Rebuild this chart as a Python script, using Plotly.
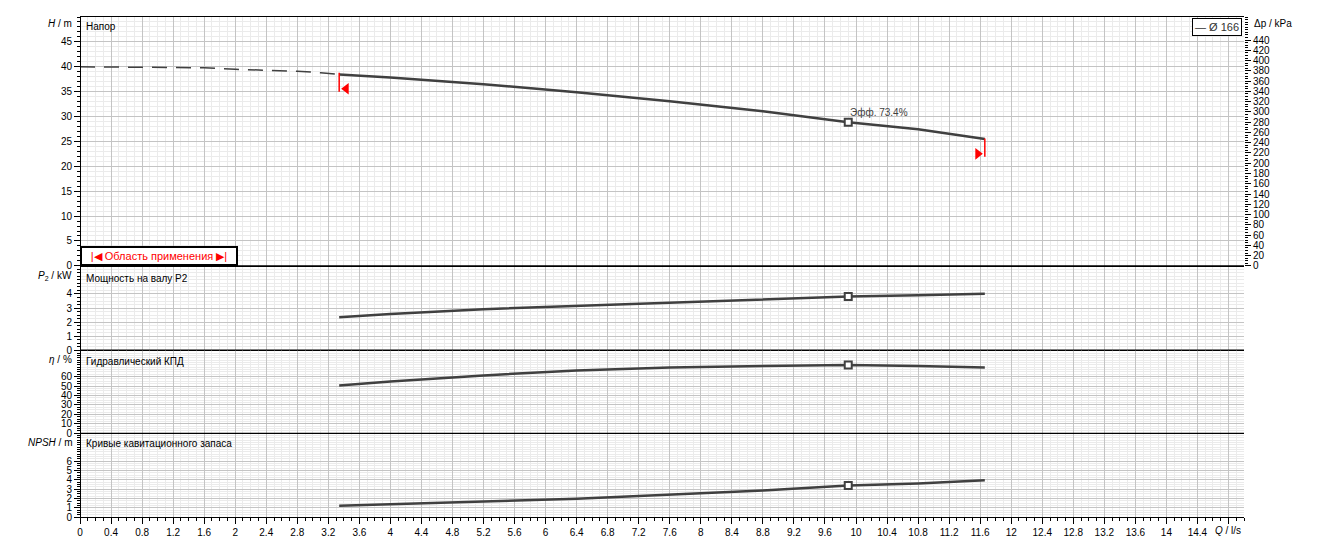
import plotly.graph_objects as go

# Pump curve readings (Q in l/s)
q_dash = [0, 1.0, 1.6, 2.0, 2.4, 2.8, 3.1, 3.34]
h_dash = [40.0, 39.95, 39.8, 39.5, 39.3, 39.1, 38.8, 38.45]

q = [3.34, 4.0, 5.2, 6.4, 7.6, 8.8, 9.9, 10.8, 11.66]
head = [38.43, 37.83, 36.5, 34.9, 33.08, 31.07, 28.85, 27.44, 25.49]
power = [2.35, 2.58, 2.92, 3.15, 3.42, 3.63, 3.82, 3.91, 4.01]
eff = [50.7, 54.9, 61.3, 66.6, 69.8, 71.2, 72.4, 71.2, 69.8]
npsh = [1.2, 1.39, 1.67, 1.96, 2.40, 2.84, 3.38, 3.6, 3.96]

# best efficiency point
q_bep = [9.9]
h_bep = [28.85]
p_bep = [3.82]
eff_bep = [72.4]
npsh_bep = [3.38]
bep_label = "Эфф. 73.4%"

# operating range markers
range_q = [3.34, 11.66]
range_top = [38.8, 25.6]
range_bottom = [35.0, 21.9]
arrow_q = [3.43, 11.57]
arrow_h = [35.6, 22.5]

q_ticks = [0, 0.4, 0.8, 1.2, 1.6, 2, 2.4, 2.8, 3.2, 3.6, 4, 4.4, 4.8, 5.2, 5.6, 6,
           6.4, 6.8, 7.2, 7.6, 8, 8.4, 8.8, 9.2, 9.6, 10, 10.4, 10.8, 11.2, 11.6,
           12, 12.4, 12.8, 13.2, 13.6, 14, 14.4, 14.8]
q_labels = ["0", "0.4", "0.8", "1.2", "1.6", "2", "2.4", "2.8", "3.2", "3.6", "4",
            "4.4", "4.8", "5.2", "5.6", "6", "6.4", "6.8", "7.2", "7.6", "8", "8.4",
            "8.8", "9.2", "9.6", "10", "10.4", "10.8", "11.2", "11.6", "12", "12.4",
            "12.8", "13.2", "13.6", "14", "14.4", ""]
h_ticks = [0, 5, 10, 15, 20, 25, 30, 35, 40, 45]
kpa_ticks = list(range(0, 441, 20))
p_ticks = [0, 1, 2, 3, 4]
eff_ticks = [0, 10, 20, 30, 40, 50, 60]
npsh_ticks = [0, 1, 2, 3, 4, 5, 6]

LINE = '#404040'
FONT = 'Liberation Sans, Arial, sans-serif'
GRID = '#c4c4c4'
MINOR = '#ebebeb'

fig = go.Figure()

# head
fig.add_trace(go.Scatter(x=q_dash, y=h_dash, mode='lines', xaxis='x4', yaxis='y',
                         line=dict(color=LINE, width=1.5, dash='15px,9px')))
fig.add_trace(go.Scatter(x=q, y=head, mode='lines', xaxis='x4', yaxis='y',
                         line=dict(color=LINE, width=2.5)))
for i in range(2):
    fig.add_trace(go.Scatter(x=[range_q[i], range_q[i]], y=[range_top[i], range_bottom[i]],
                             mode='lines', xaxis='x4', yaxis='y',
                             line=dict(color='red', width=1.5)))
fig.add_trace(go.Scatter(x=arrow_q, y=arrow_h, mode='markers', xaxis='x4', yaxis='y',
                         marker=dict(symbol=['triangle-left', 'triangle-right'],
                                     size=10, color='red')))
fig.add_trace(go.Scatter(x=q_bep, y=h_bep, mode='markers', xaxis='x4', yaxis='y',
                         marker=dict(symbol='square', size=7, color='white',
                                     line=dict(color=LINE, width=2))))
# empty trace so the kPa axis gets drawn
fig.add_trace(go.Scatter(x=[None], y=[None], mode='lines', xaxis='x4', yaxis='y2',
                         hoverinfo='skip'))

# power, efficiency, npsh
for ax_x, ax_y, vals, bep in [('x2', 'y3', power, p_bep), ('x3', 'y4', eff, eff_bep),
                              ('x', 'y5', npsh, npsh_bep)]:
    fig.add_trace(go.Scatter(x=q, y=vals, mode='lines', xaxis=ax_x, yaxis=ax_y,
                             line=dict(color=LINE, width=2.5)))
    fig.add_trace(go.Scatter(x=q_bep, y=bep, mode='markers', xaxis=ax_x, yaxis=ax_y,
                             marker=dict(symbol='square', size=7, color='white',
                                         line=dict(color=LINE, width=2))))

xgrid = dict(range=[0, 15], showgrid=True, gridcolor=GRID, gridwidth=1,
             tickmode='array', tickvals=q_ticks, zeroline=False,
             showline=True, linecolor='black', linewidth=1, mirror=False,
             minor=dict(dtick=0.1, tick0=0, showgrid=True, gridcolor=MINOR))

tickfont = dict(family=FONT, size=10, color='black')


def yaxis(domain, rng, ticks, minor):
    return dict(domain=domain, range=rng, tickmode='array', tickvals=ticks,
                showgrid=True, gridcolor=GRID, zeroline=False, showline=True,
                linecolor='black', linewidth=1, mirror=True, ticks='outside',
                ticklen=6, tickcolor='black', tickfont=tickfont, anchor='free',
                position=0,
                minor=dict(dtick=minor, tick0=0, ticks='outside', ticklen=3,
                           tickcolor='black', showgrid=True, gridcolor=MINOR))


d_npsh = [0, 0.1675]
d_eff = [0.1675, 0.3336]
d_pow = [0.3336, 0.5023]
d_head = [0.5023, 1]

fig.update_layout(
    width=1323, height=550,
    margin=dict(l=80, r=79, t=17, b=33),
    paper_bgcolor='white', plot_bgcolor='white',
    showlegend=False,
    xaxis=dict(xgrid, anchor='y5', ticks='outside', ticklen=6, tickcolor='black',
               ticktext=q_labels, tickfont=tickfont,
               minor=dict(dtick=0.1, tick0=0, showgrid=True, gridcolor=MINOR,
                          ticks='outside', ticklen=3, tickcolor='black')),
    xaxis2=dict(xgrid, anchor='y3', matches='x', showticklabels=False),
    xaxis3=dict(xgrid, anchor='y4', matches='x', showticklabels=False),
    xaxis4=dict(xgrid, anchor='y', matches='x', showticklabels=False, mirror=True),
    yaxis=yaxis(d_head, [0, 50], h_ticks, 1),
    yaxis2=dict(overlaying='y', side='right', anchor='x4', range=[0, 485],
                tickmode='array', tickvals=kpa_ticks, showgrid=False, zeroline=False,
                showline=False, ticks='outside', ticklen=6, tickcolor='black',
                tickfont=tickfont,
                minor=dict(dtick=5, tick0=0, ticks='outside', ticklen=3,
                           tickcolor='black')),
    yaxis3=yaxis(d_pow, [0, 6], p_ticks, 0.25),
    yaxis4=yaxis(d_eff, [0, 88], eff_ticks, 2.5),
    yaxis5=yaxis(d_npsh, [0, 9], npsh_ticks, 0.25),
)

# solid black separators between the panels, drawn above the grids
for yb in [d_eff[0], d_pow[0], d_head[0]]:
    fig.add_shape(type='line', xref='paper', yref='paper', x0=0, x1=1, y0=yb, y1=yb,
                  line=dict(color='black', width=1.2), layer='above')

small = dict(family=FONT, size=10, color='black')
ann = []
# axis titles
ann.append(dict(xref='paper', yref='y', x=0, y=48.6, xanchor='right', xshift=-6,
                text='<i>H</i> / m', font=tickfont, showarrow=False))
ann.append(dict(xref='paper', yref='y3', x=0, y=5.3, xanchor='right', xshift=-6,
                text='<i>P</i><sub>2</sub> / kW', font=tickfont, showarrow=False))
ann.append(dict(xref='paper', yref='y4', x=0, y=78, xanchor='right', xshift=-6,
                text='<i>η</i> / %', font=tickfont, showarrow=False))
ann.append(dict(xref='paper', yref='y5', x=0, y=8.0, xanchor='right', xshift=-6,
                text='<i>NPSH</i> / m', font=tickfont, showarrow=False))
ann.append(dict(xref='paper', yref='y', x=1, y=48.6, xanchor='left', xshift=8,
                text='Δp / kPa', font=tickfont, showarrow=False))
ann.append(dict(xref='x', yref='paper', x=14.8, y=0, yanchor='top', yshift=-6,
                text='<i>Q</i> / l/s', font=tickfont, showarrow=False))
# panel captions
ann.append(dict(xref='paper', yref='y', x=0, y=48.0, xanchor='left', xshift=4,
                text='Напор', font=small, showarrow=False))
ann.append(dict(xref='paper', yref='y3', x=0, y=5.1, xanchor='left', xshift=4,
                text='Мощность на валу P2', font=small, showarrow=False))
ann.append(dict(xref='paper', yref='y4', x=0, y=76, xanchor='left', xshift=4,
                text='Гидравлический КПД', font=small, showarrow=False))
ann.append(dict(xref='paper', yref='y5', x=0, y=7.9, xanchor='left', xshift=4,
                text='Кривые кавитационного запаса', font=small, showarrow=False))
# BEP label
ann.append(dict(xref='x4', yref='y', x=q_bep[0], y=h_bep[0], xanchor='left',
                yanchor='bottom', xshift=0, yshift=2, text=bep_label,
                font=dict(family=FONT, size=10, color=LINE), showarrow=False))
# legend box
ann.append(dict(xref='paper', yref='paper', x=1, y=1, xanchor='right', yanchor='top',
                xshift=-2, yshift=-1, text='— Ø 166', font=dict(family=FONT, size=11, color='#333'),
                bordercolor='black', borderwidth=1, borderpad=2, bgcolor='white',
                showarrow=False))
# operating range box
ann.append(dict(xref='paper', yref='y', x=0, y=0, xanchor='left', yanchor='bottom',
                text='|◀ Область применения ▶|', font=dict(family=FONT, size=11, color='red'),
                bordercolor='black', borderwidth=2, borderpad=1, bgcolor='white',
                width=152, height=14, showarrow=False))
fig.update_layout(annotations=ann)

fig.write_html("out.html", config={'displayModeBar': False},
               post_script="document.body.style.margin='0';")
